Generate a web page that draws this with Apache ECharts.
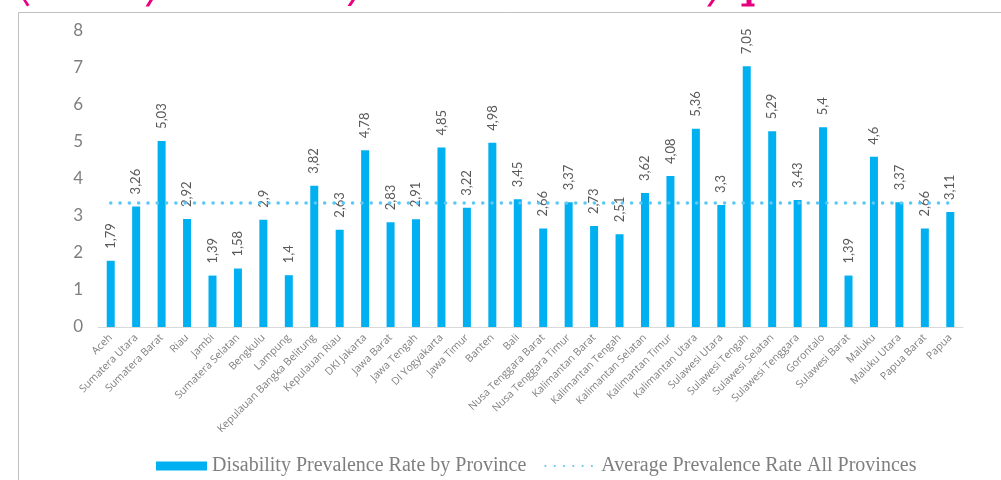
<!DOCTYPE html>
<html>
<head>
<meta charset="utf-8">
<script src="https://cdn.jsdelivr.net/npm/echarts@6/dist/echarts.min.js"></script>
<style>html,body{margin:0;padding:0;background:#fff;overflow:hidden;}#wrap{position:relative;width:1001px;height:480px;}#c{width:1001px;height:480px;}#frag{position:absolute;left:0;top:0;pointer-events:none;}</style>
</head>
<body>
<div id="wrap">
<div id="c"></div>
<svg id="frag" width="1001" height="10" viewBox="0 0 1001 10">
  <g fill="#E6007E">
    <polygon points="23,0 26,0 29.5,5 27,6.5"/>
    <polygon points="149.5,0 153,0 149,6.5 145.5,6.5"/>
    <polygon points="351.5,0 355,0 351,6 347.5,6"/>
    <polygon points="711.5,0 715,0 710.5,6.5 707,6.5"/>
    <polygon points="746.5,0 751.5,0 751.5,3.5 754.5,3.5 754.5,6.5 741.5,6.5 741.5,3.5 746.5,3.5"/>
  </g>
</svg>
</div>
<script>
const categories = ['Aceh','Sumatera Utara','Sumatera Barat','Riau','Jambi','Sumatera Selatan','Bengkulu','Lampung','Kepulauan Bangka Belitung','Kepulauan Riau','DKI Jakarta','Jawa Barat','Jawa Tengah','DI Yogyakarta','Jawa Timur','Banten','Bali','Nusa Tenggara Barat','Nusa Tenggara Timur','Kalimantan Barat','Kalimantan Tengah','Kalimantan Selatan','Kalimantan Timur','Kalimantan Utara','Sulawesi Utara','Sulawesi Tengah','Sulawesi Selatan','Sulawesi Tenggara','Gorontalo','Sulawesi Barat','Maluku','Maluku Utara','Papua Barat','Papua'];
const prevalence = [1.79,3.26,5.03,2.92,1.39,1.58,2.9,1.4,3.82,2.63,4.78,2.83,2.91,4.85,3.22,4.98,3.45,2.66,3.37,2.73,2.51,3.62,4.08,5.36,3.3,7.05,5.29,3.43,5.4,1.39,4.6,3.37,2.66,3.11];
const averageRate = 3.35;
const yTicks = [0,1,2,3,4,5,6,7,8];

const chart = echarts.init(document.getElementById('c'), null, {renderer:'canvas'});
chart.setOption({
  animation:false,
  backgroundColor:'#fff',
  graphic:[
    {type:'rect', shape:{x:18.5,y:12.5,width:1200,height:700}, style:{fill:'none',stroke:'#BFBFBF',lineWidth:1}, silent:true}
  ],
  grid:{left:98, right:38, top:31, bottom:153, containLabel:false},
  legend:{
    top:451, left:151, itemGap:18, itemWidth:51, itemHeight:9,
    textStyle:{fontFamily:'Liberation Serif', fontSize:20, color:'#7F7F7F'},
    data:[
      {name:'Disability Prevalence Rate by Province', icon:'rect'},
      {name:'Average Prevalence Rate All Provinces', itemStyle:{opacity:0}}
    ]
  },
  xAxis:{
    type:'category', data:categories,
    axisLine:{lineStyle:{color:'#D9D9D9', width:1}},
    axisTick:{show:false},
    axisLabel:{interval:0, rotate:45, margin:9, fontFamily:'Open Sans', fontSize:10.5, color:'#7F7F7F'}
  },
  yAxis:{
    type:'value', min:yTicks[0], max:yTicks[yTicks.length-1], interval:1,
    axisLine:{show:false}, axisTick:{show:false}, splitLine:{show:false},
    axisLabel:{margin:15, fontFamily:'Lato', fontSize:17, color:'#7F7F7F'}
  },
  series:[
    {
      name:'Disability Prevalence Rate by Province', type:'bar', data:prevalence, barWidth:8,
      itemStyle:{color:'#00B0F0'},
      label:{show:true, position:'top', rotate:90, align:'left', verticalAlign:'middle', distance:12,
        fontFamily:'Lato', fontSize:13, color:'#595959',
        formatter:p=>String(p.value).replace('.', ',')}
    },
    {
      name:'Average Prevalence Rate All Provinces', type:'line', data:categories.map(()=>averageRate),
      symbol:'none', z:5,
      lineStyle:{color:'#5BC8F5', width:3.5, type:[0.1,9.2], cap:'round'},
      itemStyle:{color:'#5BC8F5'}
    }
  ]
});
</script>
</body>
</html>
